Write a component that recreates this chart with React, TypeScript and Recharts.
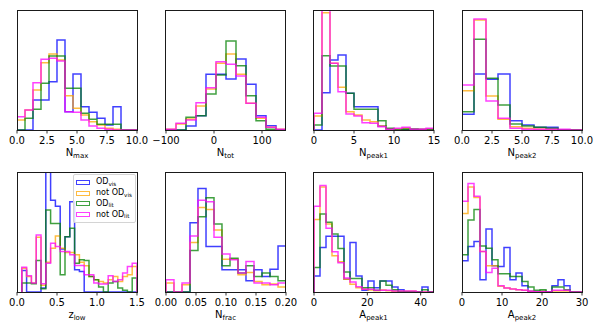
import React from 'react';
import { LineChart, Line, XAxis, YAxis } from 'recharts';

// series order: OD_vis, not OD_vis, OD_lit, not OD_lit
const SERIES_MAIN = ['OD', 'not OD', 'OD', 'not OD'];
const SERIES_SUB = ['vis', 'vis', 'lit', 'lit'];
const COLORS = ['#0000ff', '#ffa500', '#008000', '#ff00ff'];

// N_max
const nmaxEdges = [0, 0.667, 1.333, 2, 2.667, 3.333, 4, 4.667, 5.333, 6, 6.667, 7.333, 8, 8.667, 9.333, 10];
const nmaxVis = [0, 0, 90, 90, 145, 270, 55, 168, 70, 53, 35, 15, 70, 0, 0];
const nmaxNotVis = [30, 60, 120, 202, 228, 210, 103, 65, 45, 25, 15, 5, 2, 0, 0];
const nmaxLit = [0, 35, 62, 140, 222, 222, 125, 125, 50, 32, 17, 17, 17, 0, 0];
const nmaxNotLit = [40, 60, 142, 212, 215, 207, 55, 53, 30, 12, 5, 2, 0, 0, 0];
const nmaxTicks = [0, 2.5, 5, 7.5, 10];
const nmaxTickLabels = ['0.0', '2.5', '5.0', '7.5', '10.0'];

// N_tot
const ntotEdges = [-100, -79.17, -58.33, -37.5, -16.67, 4.17, 25, 45.83, 66.67, 87.5, 108.33, 129.17, 150];
const ntotVis = [0, 0, 12, 43, 167, 167, 153, 213, 137, 43, 13, 0];
const ntotNotVis = [2, 18, 33, 72, 123, 200, 228, 167, 80, 35, 8, 2];
const ntotLit = [0, 0, 38, 43, 108, 165, 267, 193, 103, 28, 2, 0];
const ntotNotLit = [2, 20, 30, 82, 127, 205, 197, 162, 80, 38, 8, 2];
const ntotTicks = [-100, 0, 100];
const ntotTickLabels = ['\u2212100', '0', '100'];

// N_peak1
const npeak1Edges = [0, 1, 2, 3, 4, 5, 6, 7, 8, 9, 10, 11, 12, 13, 14, 15];
const npeak1Vis = [0, 112, 210, 225, 110, 70, 70, 70, 12, 0, 0, 2, 2, 2, 2];
const npeak1NotVis = [42, 352, 200, 128, 55, 45, 30, 25, 12, 3, 3, 5, 2, 2, 3];
const npeak1Lit = [15, 223, 192, 192, 110, 62, 62, 62, 28, 5, 0, 2, 2, 0, 0];
const npeak1NotLit = [50, 380, 200, 115, 48, 42, 22, 20, 10, 2, 5, 8, 2, 2, 5];
const npeak1Ticks = [0, 5, 10, 15];
const npeak1TickLabels = ['0', '5', '10', '15'];

// N_peak2
const npeak2Edges = [0, 1, 2, 3, 4, 5, 6, 7, 8, 9, 10];
const npeak2Vis = [47, 168, 152, 168, 28, 15, 8, 8, 0, 0];
const npeak2NotVis = [118, 330, 102, 32, 10, 5, 3, 2, 0, 0];
const npeak2Lit = [55, 272, 155, 75, 18, 12, 8, 5, 0, 0];
const npeak2NotLit = [135, 333, 87, 35, 5, 2, 2, 2, 2, 0];
const npeak2Ticks = [0, 2.5, 5, 7.5, 10];
const npeak2TickLabels = ['0.0', '2.5', '5.0', '7.5', '10.0'];

// z_low
const zlowEdges = [0.06, 0.12, 0.18, 0.24, 0.3, 0.36, 0.42, 0.48, 0.54, 0.6, 0.66, 0.72, 0.78, 0.84, 0.9, 0.96, 1.02, 1.08, 1.14, 1.2, 1.26, 1.32, 1.38, 1.44, 1.5];
const zlowVis = [65, 0, 0, 0, 12, 400, 277, 259, 130, 167, 272, 67, 62, 0, 0, 0, 0, 0, 0, 0, 0, 0, 0, 0];
const zlowNotVis = [72, 47, 27, 165, 20, 90, 132, 169, 132, 119, 119, 112, 90, 79, 47, 37, 32, 27, 37, 47, 32, 47, 52, 77];
const zlowLit = [27, 27, 25, 95, 10, 247, 207, 207, 52, 167, 192, 87, 97, 95, 47, 37, 15, 0, 27, 32, 12, 5, 0, 42];
const zlowNotLit = [75, 49, 27, 172, 25, 87, 147, 137, 122, 122, 112, 80, 80, 52, 52, 27, 24, 24, 49, 32, 37, 57, 77, 87];
const zlowTicks = [0, 0.5, 1, 1.5];
const zlowTickLabels = ['0.0', '0.5', '1.0', '1.5'];

// N_frac
const nfracEdges = [0, 0.0133, 0.0267, 0.04, 0.0533, 0.0667, 0.08, 0.0933, 0.1067, 0.12, 0.1333, 0.1467, 0.16, 0.1733, 0.1867, 0.2];
const nfracVis = [0, 0, 0, 209, 312, 137, 137, 67, 67, 67, 34, 67, 47, 69, 139];
const nfracNotVis = [27, 0, 22, 149, 255, 249, 187, 99, 99, 52, 59, 32, 22, 24, 15];
const nfracLit = [0, 0, 0, 125, 227, 284, 205, 79, 102, 57, 79, 47, 57, 47, 34];
const nfracNotLit = [37, 0, 27, 169, 277, 272, 165, 115, 97, 57, 92, 27, 27, 22, 27];
const nfracTicks = [0, 0.05, 0.1, 0.15, 0.2];
const nfracTickLabels = ['0.00', '0.05', '0.10', '0.15', '0.20'];

// A_peak1
const apeak1Edges = [0, 2.25, 4.5, 6.75, 9, 11.25, 13.5, 15.75, 18, 20.25, 22.5, 24.75, 27, 29.25, 31.5, 33.75, 36, 38.25, 40.5, 42.75, 45];
const apeak1Vis = [48, 133, 166, 166, 166, 38, 148, 48, 5, 33, 13, 33, 33, 15, 7, 0, 0, 0, 15, 0];
const apeak1NotVis = [216, 313, 203, 108, 90, 38, 23, 13, 8, 6, 4, 6, 4, 2, 2, 2, 2, 0, 0, 0];
const apeak1Lit = [73, 233, 208, 173, 130, 60, 40, 40, 13, 13, 5, 33, 20, 7, 0, 0, 0, 0, 7, 0];
const apeak1NotLit = [256, 318, 190, 120, 87, 42, 30, 16, 8, 8, 5, 5, 5, 3, 3, 3, 3, 0, 0, 0];
const apeak1Ticks = [0, 20, 40];
const apeak1TickLabels = ['0', '20', '40'];

// A_peak2
const apeak2Edges = [0, 1.5, 3, 4.5, 6, 7.5, 9, 10.5, 12, 13.5, 15, 16.5, 18, 19.5, 21, 22.5, 24, 25.5, 27, 28.5, 30];
const apeak2Vis = [94, 137, 152, 37, 190, 79, 77, 134, 37, 57, 19, 2, 0, 2, 0, 19, 37, 19, 0, 0];
const apeak2NotVis = [237, 317, 285, 122, 79, 79, 17, 12, 9, 7, 5, 2, 0, 2, 0, 3, 3, 3, 0, 0];
const apeak2Lit = [112, 217, 249, 139, 132, 97, 55, 55, 47, 47, 32, 15, 5, 7, 0, 15, 15, 7, 0, 0];
const apeak2NotLit = [274, 327, 289, 122, 59, 72, 19, 12, 9, 7, 5, 2, 1, 1, 1, 5, 5, 5, 0, 0];
const apeak2Ticks = [0, 10, 20, 30];
const apeak2TickLabels = ['0', '10', '20', '30'];

const COL_X = [17, 165.5, 313.5, 462];
const ROW_Y = [10, 172];
const PLOT_W = 120;
const PLOT_H = 120;
const PAD_X = 16;
const PAD_T = 2;
const AXIS_H = 18;
const FONT = '"DejaVu Sans", sans-serif';

type Panel = {
  edges: number[];
  series: number[][];
  ticks: number[];
  tickLabels: string[];
  xMin: number;
  yMax: number;
  main: string;
  sub: string;
};

const panels: Panel[] = [
  { edges: nmaxEdges, series: [nmaxVis, nmaxNotVis, nmaxLit, nmaxNotLit], ticks: nmaxTicks, tickLabels: nmaxTickLabels, xMin: 0, yMax: 360, main: 'N', sub: 'max' },
  { edges: ntotEdges, series: [ntotVis, ntotNotVis, ntotLit, ntotNotLit], ticks: ntotTicks, tickLabels: ntotTickLabels, xMin: -100, yMax: 360, main: 'N', sub: 'tot' },
  { edges: npeak1Edges, series: [npeak1Vis, npeak1NotVis, npeak1Lit, npeak1NotLit], ticks: npeak1Ticks, tickLabels: npeak1TickLabels, xMin: 0, yMax: 360, main: 'N', sub: 'peak1' },
  { edges: npeak2Edges, series: [npeak2Vis, npeak2NotVis, npeak2Lit, npeak2NotLit], ticks: npeak2Ticks, tickLabels: npeak2TickLabels, xMin: 0, yMax: 360, main: 'N', sub: 'peak2' },
  { edges: zlowEdges, series: [zlowVis, zlowNotVis, zlowLit, zlowNotLit], ticks: zlowTicks, tickLabels: zlowTickLabels, xMin: 0, yMax: 362, main: 'z', sub: 'low' },
  { edges: nfracEdges, series: [nfracVis, nfracNotVis, nfracLit, nfracNotLit], ticks: nfracTicks, tickLabels: nfracTickLabels, xMin: 0, yMax: 362, main: 'N', sub: 'frac' },
  { edges: apeak1Edges, series: [apeak1Vis, apeak1NotVis, apeak1Lit, apeak1NotLit], ticks: apeak1Ticks, tickLabels: apeak1TickLabels, xMin: 0, yMax: 358, main: 'A', sub: 'peak1' },
  { edges: apeak2Edges, series: [apeak2Vis, apeak2NotVis, apeak2Lit, apeak2NotLit], ticks: apeak2Ticks, tickLabels: apeak2TickLabels, xMin: 0, yMax: 362, main: 'A', sub: 'peak2' },
];

// outline of a step histogram: up at the first edge, across each bin, down at the last edge
function toSteps(edges: number[], counts: number[]) {
  const pts = [{ x: edges[0], y: 0 }];
  counts.forEach((c, i) => {
    pts.push({ x: edges[i], y: c });
    pts.push({ x: edges[i + 1], y: c });
  });
  pts.push({ x: edges[edges.length - 1], y: 0 });
  return pts;
}

const tickStroke = { stroke: '#000', strokeWidth: 0.8 };

function HistPanel({ p, idx }: { p: Panel; idx: number }) {
  const col = idx % 4;
  const row = Math.floor(idx / 4);
  const domain: [number, number] = [p.xMin, p.edges[p.edges.length - 1]];
  const left = COL_X[col];
  const top = ROW_Y[row];
  return (
    <>
      <div style={{ position: 'absolute', left: left - PAD_X, top: top - PAD_T }}>
        <LineChart
          width={PLOT_W + 2 * PAD_X}
          height={PAD_T + PLOT_H + AXIS_H}
          margin={{ top: PAD_T, right: PAD_X, bottom: 0, left: PAD_X }}
        >
          <XAxis
            dataKey="x"
            type="number"
            domain={domain}
            allowDataOverflow
            ticks={p.ticks}
            interval={0}
            tickFormatter={(_v: number, i: number) => p.tickLabels[i]}
            height={AXIS_H}
            tickSize={3.5}
            tickMargin={3}
            axisLine={false}
            tickLine={tickStroke}
            tick={{ fontSize: 10, fill: '#000', fontFamily: FONT }}
          />
          <YAxis type="number" domain={[0, p.yMax]} allowDataOverflow hide />
          {p.series.map((s, k) => (
            <Line
              key={k}
              data={toSteps(p.edges, s)}
              dataKey="y"
              type="linear"
              stroke={COLORS[k]}
              strokeWidth={1.5}
              strokeOpacity={0.75}
              dot={false}
              activeDot={false}
              isAnimationActive={false}
            />
          ))}
        </LineChart>
      </div>
      {/* axes frame */}
      <div
        style={{
          position: 'absolute',
          left: left - 0.5,
          top: top - 0.5,
          width: PLOT_W + 1,
          height: PLOT_H + 1,
          border: '1px solid #1a1a1a',
          boxSizing: 'border-box',
          pointerEvents: 'none',
        }}
      />
      <div
        style={{
          position: 'absolute',
          left: left,
          width: PLOT_W,
          top: top + PLOT_H + 16.5,
          textAlign: 'center',
          fontFamily: FONT,
          fontSize: 10,
          lineHeight: '12px',
          color: '#000',
        }}
      >
        {p.main}
        <span style={{ fontSize: 7, position: 'relative', top: 2 }}>{p.sub}</span>
      </div>
    </>
  );
}

function LegendBox() {
  return (
    <div
      style={{
        position: 'absolute',
        left: 72.5,
        top: 174,
        width: 61,
        height: 45,
        border: '1px solid #d4d4d4',
        borderRadius: 2,
        background: 'rgba(255,255,255,0.8)',
        fontFamily: FONT,
        fontSize: 8,
        color: '#000',
        paddingTop: 2,
        boxSizing: 'content-box',
      }}
    >
      {SERIES_MAIN.map((m, k) => (
        <div key={k} style={{ display: 'flex', alignItems: 'center', height: 10.8 }}>
          <div
            style={{
              marginLeft: 2,
              width: 12,
              height: 3,
              border: `1.5px solid ${COLORS[k]}`,
              opacity: 0.75,
            }}
          />
          <span style={{ marginLeft: 6.5, lineHeight: '9px', whiteSpace: 'nowrap' }}>
            {m}
            <span style={{ fontSize: 5.6, position: 'relative', top: 1.5 }}>{SERIES_SUB[k]}</span>
          </span>
        </div>
      ))}
    </div>
  );
}

export default function App() {
  return (
    <div style={{ position: 'absolute', left: 0, top: 0, width: 598, height: 333, background: '#fff', overflow: 'hidden' }}>
      {panels.map((p, i) => (
        <HistPanel key={i} p={p} idx={i} />
      ))}
      <LegendBox />
    </div>
  );
}
